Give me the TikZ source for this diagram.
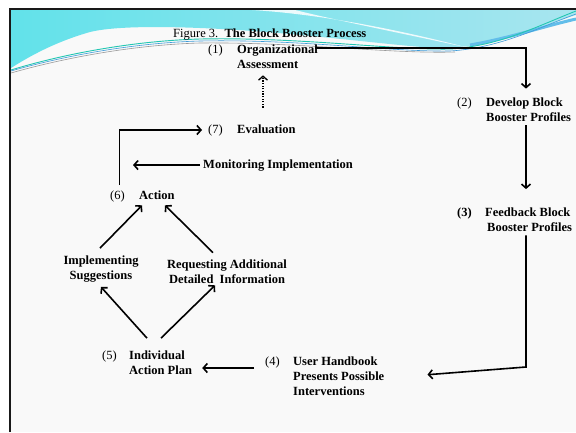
\documentclass[tikz,border=0pt]{standalone}
\usepackage{fontspec}
\setmainfont{Liberation Serif}
\usetikzlibrary{arrows.meta}
\definecolor{slidebg}{HTML}{F9F9F9}
\definecolor{wavecyan}{HTML}{62E2EA}
\definecolor{wavemid}{HTML}{82D0E4}
\definecolor{wavelight}{HTML}{A8E5EF}
\definecolor{waveteal}{HTML}{22C6B2}
\definecolor{waveblue}{HTML}{3E9BD8}
\definecolor{wavedeep}{HTML}{62BEEA}
\begin{document}
\begin{tikzpicture}[x=1pt,y=-1pt,
  lbl/.style={inner sep=0pt, anchor=base west, font=\fontsize{12.5}{15}\selectfont},
  blbl/.style={lbl, font=\fontsize{12.5}{15}\selectfont\bfseries, align=left},
  arr/.style={line width=1.6pt, -{Straight Barb[length=4pt,width=9pt]}},
]
% page and slide background
\useasboundingbox (0,0) rectangle (576,432);
\fill[white] (0,0) rectangle (576,432);
\fill[slidebg] (10,9) rectangle (576,432);

% header wave
\shade[left color=wavecyan, middle color=wavemid, right color=wavelight]
  (11,10) -- (576,10) -- (576,15)
  .. controls (530,30) and (490,48) .. (440,48)
  .. controls (400,47) and (300,32) .. (200,28)
  .. controls (150,26) and (110,27) .. (90,32)
  .. controls (55,42) and (30,56) .. (11,68) -- cycle;
\fill[white, opacity=0.85]
  (252,10) .. controls (320,14) and (400,30) .. (465,47)
  .. controls (400,33) and (335,20) .. (295,10) -- cycle;
\draw[wavedeep, line width=3pt]
  (470,45) .. controls (510,38) and (545,26) .. (576,19);
\draw[waveteal, line width=0.9pt]
  (11,70) .. controls (60,55) and (130,41) .. (200,39)
  .. controls (300,37) and (390,50) .. (450,49)
  .. controls (500,46) and (540,25) .. (576,11);
\draw[waveblue, line width=0.6pt]
  (11,71) .. controls (60,57) and (130,43) .. (200,41)
  .. controls (300,39) and (390,52) .. (450,51)
  .. controls (500,48) and (540,27) .. (576,14);
\draw[black!40, line width=0.6pt]
  (11,73) .. controls (60,59) and (130,45) .. (200,43)
  .. controls (300,42) and (390,54) .. (455,52);

% slide frame
\draw[black!90, line width=2.4pt] (10.2,432) -- (10.2,9) -- (576,9);

% title
\node[lbl] (title) at (173,37) {Figure 3.\ \ \textbf{The Block Booster Process}};

% process steps (multi-line labels are placed by their last baseline)
\node[lbl]  (n1num) at (208,53) {(1)};
\node[blbl] (n1)    at (237,68) {Organizational\\Assessment};
\node[lbl]  (n2num) at (457,106) {(2)};
\node[blbl] (n2)    at (486,121) {Develop Block\\Booster Profiles};
\node[blbl] (n3num) at (457,216) {(3)};
\node[blbl] (n3)    at (485,231) {Feedback Block\\\hspace{2pt}Booster Profiles};
\node[lbl]  (n4num) at (265,365) {(4)};
\node[blbl] (n4)    at (293,395) {User Handbook\\Presents Possible\\Interventions};
\node[lbl]  (n5num) at (102,359) {(5)};
\node[blbl] (n5)    at (129,374) {Individual\\Action Plan};
\node[lbl]  (n6num) at (110,199) {(6)};
\node[blbl] (n6)    at (139,199) {Action};
\node[lbl]  (n7num) at (208,133) {(7)};
\node[blbl] (n7)    at (237,133) {Evaluation};

% intermediate activities
\node[blbl, anchor=base, align=center] (impl) at (101,279) {Implementing\\Suggestions};
\node[blbl, anchor=base, align=center] (req)  at (227,283) {Requesting Additional\\Detailed\ \ Information};
\node[blbl] (mon) at (203,168) {Monitoring Implementation};

% corner points of the elbow connectors
\coordinate (c12) at (526,48);
\coordinate (c34) at (526,367);
\coordinate (y45) at (0,368);

% connectors
\draw[arr] ([xshift=-3pt]n1.east |- c12) -- (c12) -- ([yshift=8.5pt]n2.north -| c12);
\draw[arr] ([yshift=-4pt]n2.south -| c12) -- ([yshift=18pt]n3.north -| c12);
\draw[arr] ([yshift=-4pt]n3.south -| c34) -- (c34) -- ([xshift=43pt,yshift=1pt]n4.east);
\draw[arr] ([xshift=-11pt]n4num.west |- y45) -- ([xshift=10pt]n5.east |- y45);
\draw[arr] ([xshift=18pt,yshift=12pt]n5.north west) -- ([yshift=-5pt]impl.south);
\draw[arr] ([xshift=32pt,yshift=12pt]n5.north west) -- ([xshift=-12pt,yshift=-2pt]req.south);
\draw[arr] ([xshift=-1pt,yshift=7pt]impl.north) -- ([xshift=3pt,yshift=-6pt]n6.south west);
\draw[arr] ([xshift=-14pt,yshift=6.5pt]req.north) -- ([xshift=26pt,yshift=-6pt]n6.south west);
\draw[arr] ([xshift=2pt,yshift=5pt]n6num.north) |- ([xshift=-6pt]n7num.west);
\draw[arr] ([xshift=-3pt]mon.west) -- ([xshift=-70pt]mon.west);
\draw[arr, dash pattern=on 1.3pt off 1.3pt, line width=1.3pt]
  ([xshift=26pt,yshift=16.5pt]n7.north west) -- ([xshift=26pt,yshift=-7pt]n1.south west);
\end{tikzpicture}
\end{document}
